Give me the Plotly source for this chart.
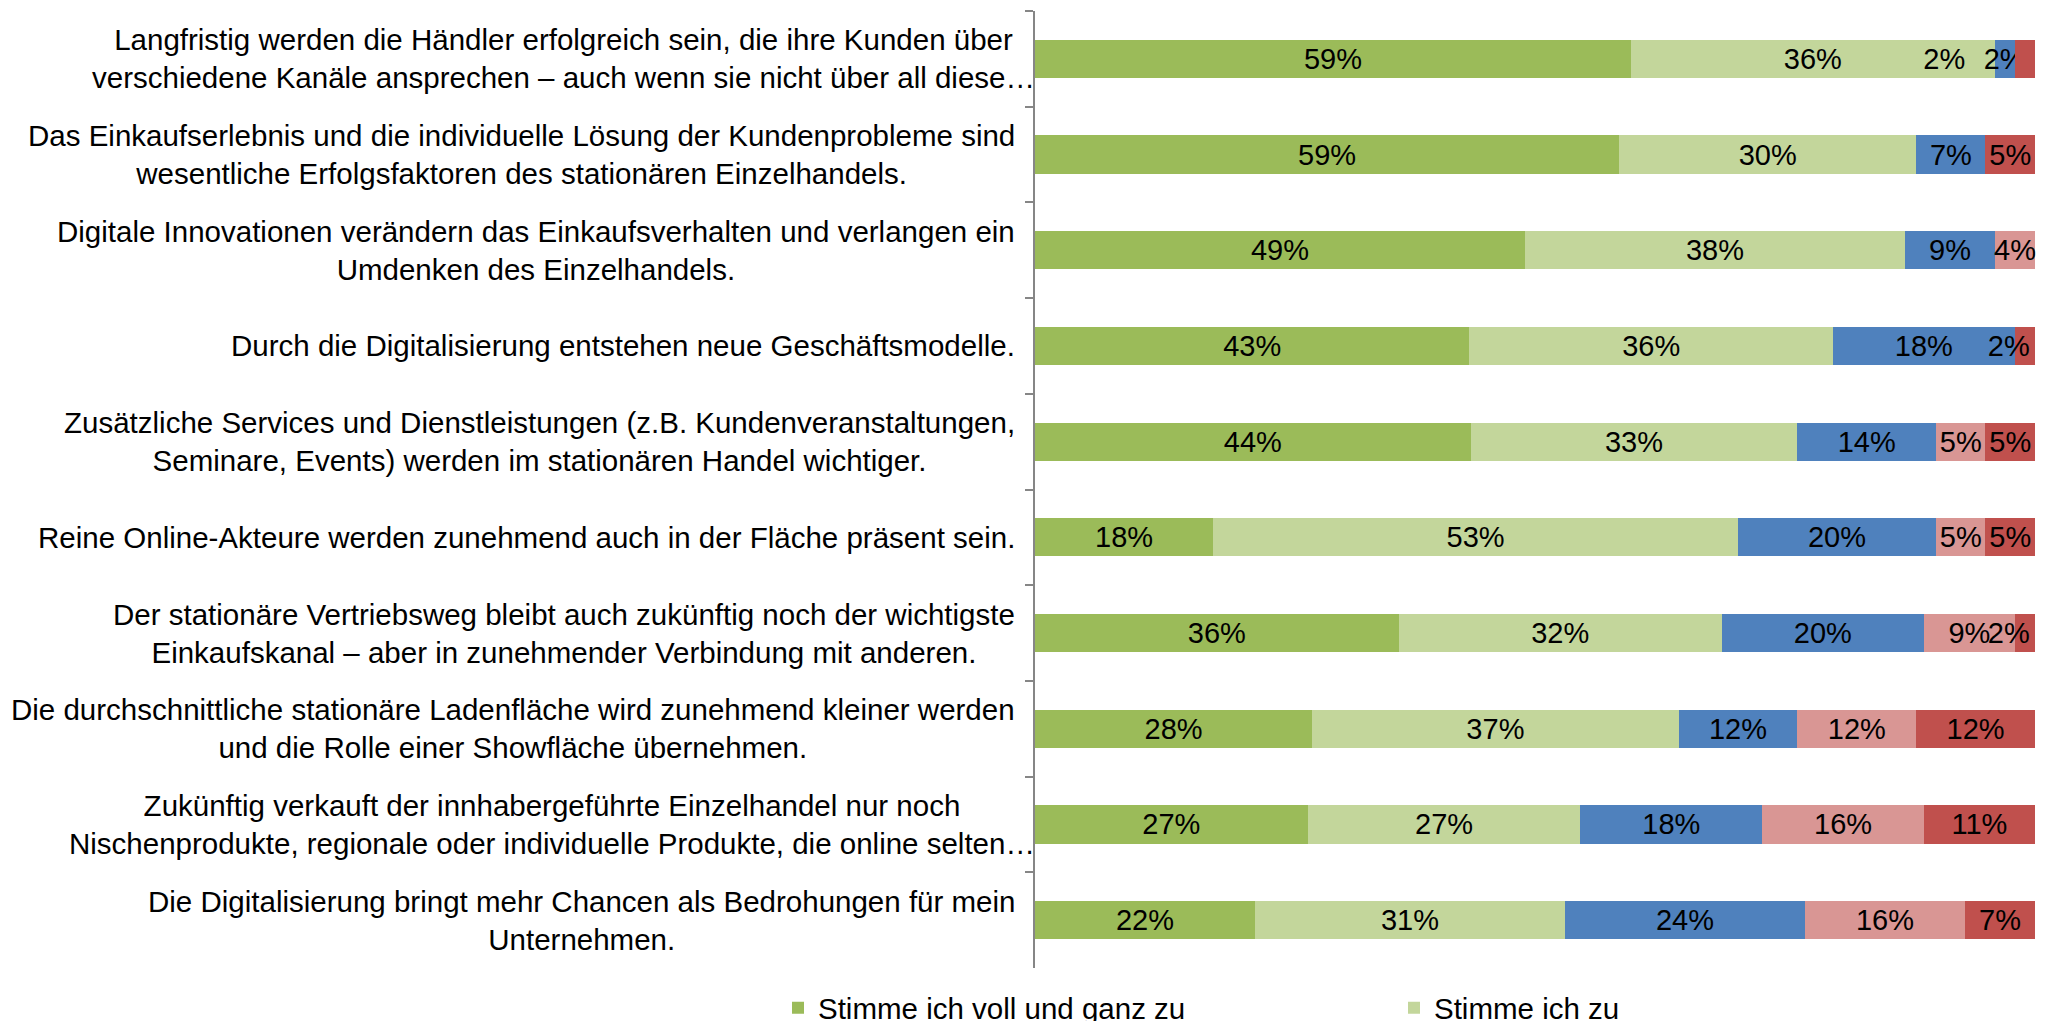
import plotly.graph_objects as go

categories = [
    "Langfristig werden die Händler erfolgreich sein, die ihre Kunden über<br>verschiedene Kanäle ansprechen – auch wenn sie nicht über all diese…",
    "Das Einkaufserlebnis und die individuelle Lösung der Kundenprobleme sind<br>wesentliche Erfolgsfaktoren des stationären Einzelhandels.",
    "Digitale Innovationen verändern das Einkaufsverhalten und verlangen ein<br>Umdenken des Einzelhandels.",
    "Durch die Digitalisierung entstehen neue Geschäftsmodelle.",
    "Zusätzliche Services und Dienstleistungen (z.B. Kundenveranstaltungen,<br>Seminare, Events) werden im stationären Handel wichtiger.",
    "Reine Online-Akteure werden zunehmend auch in der Fläche präsent sein.",
    "Der stationäre Vertriebsweg bleibt auch zukünftig noch der wichtigste<br>Einkaufskanal – aber in zunehmender Verbindung mit anderen.",
    "Die durchschnittliche stationäre Ladenfläche wird zunehmend kleiner werden<br>und die Rolle einer Showfläche übernehmen.",
    "Zukünftig verkauft der innhabergeführte Einzelhandel nur noch<br>Nischenprodukte, regionale oder individuelle Produkte, die online selten…",
    "Die Digitalisierung bringt mehr Chancen als Bedrohungen für mein<br>Unternehmen.",
]

series_names = [
    "Stimme ich voll und ganz zu",
    "Stimme ich zu",
    "Teils, teils",
    "Stimme ich eher nicht zu",
    "Stimme ich überhaupt nicht zu",
]

v_voll = [59, 59, 49, 43, 44, 18, 36, 28, 27, 22]
v_zu = [36, 30, 38, 36, 33, 53, 32, 37, 27, 31]
v_teils = [2, 7, 9, 18, 14, 20, 20, 12, 18, 24]
v_eher_nicht = [0, 0, 4, 0, 5, 5, 9, 12, 16, 16]
v_nicht = [2, 5, 0, 2, 5, 5, 2, 12, 11, 7]

series_values = [v_voll, v_zu, v_teils, v_eher_nicht, v_nicht]
colors = ["#9BBB59", "#C3D69B", "#4F81BD", "#D99694", "#C0504D"]
legend_visible = [True, True, False, False, False]

# data labels that the original chart moved to the left (series index, row index): shift in px
label_nudge_left = {(4, 0): 80, (4, 3): 18, (4, 6): 18}

FONT = "Liberation Sans, Arial, sans-serif"
FS_CAT = 29.5
FS_LBL = 29
NBSP_W = 0.278 * FS_LBL


def make_label(si, ri, v):
    if v <= 0:
        return ""
    s = f"{v}%"
    shift = label_nudge_left.get((si, ri), 0)
    if shift:
        s += "\u00a0" * int(round(2 * shift / NBSP_W))
    return s


fig = go.Figure()
for si, (name, vals, col, leg) in enumerate(zip(series_names, series_values, colors, legend_visible)):
    fig.add_trace(go.Bar(
        name=name,
        y=categories,
        x=vals,
        orientation="h",
        marker=dict(color=col, line=dict(width=0)),
        text=[make_label(si, ri, v) for ri, v in enumerate(vals)],
        textposition="inside",
        insidetextanchor="middle",
        textangle=0,
        constraintext="none",
        cliponaxis=False,
        textfont=dict(family=FONT, size=FS_LBL, color="black"),
        showlegend=leg,
        hoverinfo="skip",
    ))

for cat in categories:
    truncated = cat.endswith("…")
    fig.add_annotation(
        x=0, xref="paper", y=cat, yref="y",
        text=cat, showarrow=False,
        xanchor="right", yanchor="middle", align="center",
        xshift=2 if truncated else -18,
        font=dict(family=FONT, size=FS_CAT, color="black"),
    )

fig.update_layout(
    width=2048, height=1021,
    barmode="stack",
    barnorm="percent",
    bargap=0.6,
    plot_bgcolor="white",
    paper_bgcolor="white",
    margin=dict(l=1035, r=13, t=11, b=53, autoexpand=False),
    uniformtext=dict(minsize=FS_LBL, mode="show"),
    font=dict(family=FONT, size=FS_CAT, color="black"),
    showlegend=True,
    legend=dict(
        orientation="h",
        x=-0.257, xanchor="left",
        y=-0.042, yanchor="middle",
        entrywidthmode="pixels", entrywidth=571,
        font=dict(family=FONT, size=FS_CAT, color="black"),
        traceorder="normal",
        bgcolor="rgba(0,0,0,0)",
    ),
    xaxis=dict(
        range=[0, 100.001], visible=False, showgrid=False, zeroline=False, fixedrange=True,
    ),
    yaxis=dict(
        type="category",
        autorange="reversed",
        showticklabels=False,
        showline=True, linecolor="#868686", linewidth=1.5,
        ticks="outside", tickson="boundaries", ticklen=8, tickcolor="#868686", tickwidth=1.5,
        showgrid=False, zeroline=False,
    ),
)

fig.write_html(
    "out.html",
    config={"displayModeBar": False},
    post_script="document.body.style.margin='0';document.body.style.padding='0';document.body.style.overflow='hidden';",
)
